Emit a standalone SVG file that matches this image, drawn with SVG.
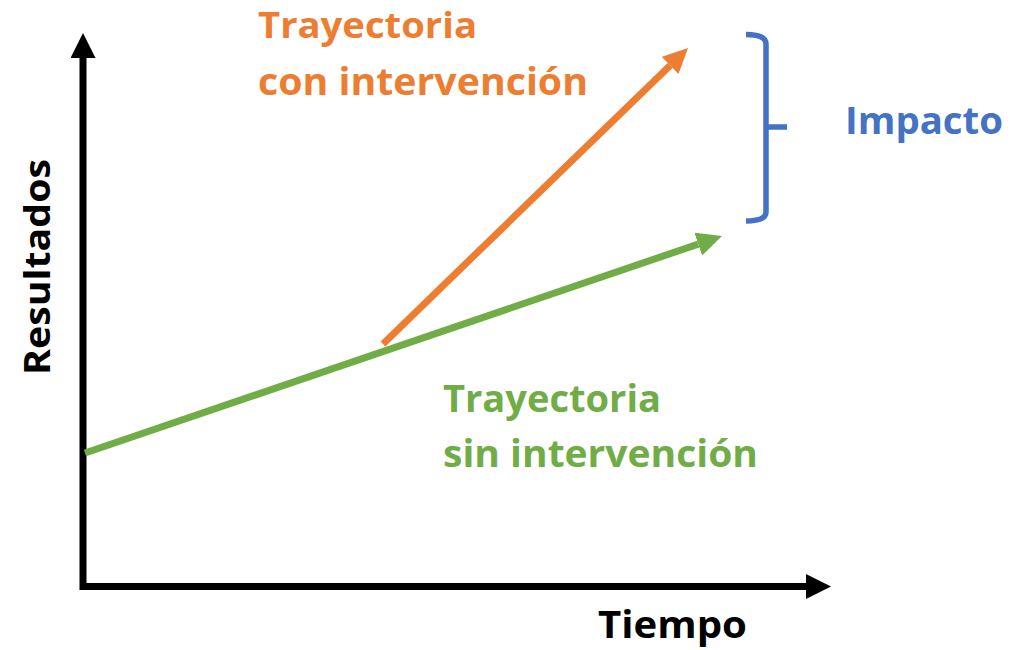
<svg xmlns="http://www.w3.org/2000/svg" width="1027" height="650" viewBox="0 0 1027 650">
<style>
text{font-family:"Open Sans","Liberation Sans",sans-serif;font-weight:bold;font-size:38px}
.or{fill:#ED7D31}.gr{fill:#70AD47}.bl{fill:#4472C4}.bk{fill:#000}
</style>
<defs>
<marker id="hk" viewBox="0 0 10 10" refX="0" refY="5" markerWidth="25" markerHeight="25" markerUnits="userSpaceOnUse" orient="auto"><path d="M0,0L10,5L0,10z" fill="#000"/></marker>
<marker id="hg" viewBox="0 0 10 10" refX="0" refY="5" markerWidth="25" markerHeight="24" markerUnits="userSpaceOnUse" orient="auto" preserveAspectRatio="none"><path d="M0,0L10,5L0,10z" fill="#70AD47"/></marker>
<marker id="ho" viewBox="0 0 10 10" refX="0" refY="5" markerWidth="25" markerHeight="24" markerUnits="userSpaceOnUse" orient="auto" preserveAspectRatio="none"><path d="M0,0L10,5L0,10z" fill="#ED7D31"/></marker>
</defs>
<g id="connectors">
<line x1="83" y1="590" x2="83" y2="58" stroke="#000" stroke-width="7" marker-end="url(#hk)"/>
<line x1="80" y1="586.5" x2="806" y2="586.5" stroke="#000" stroke-width="7" marker-end="url(#hk)"/>
<line x1="85" y1="453" x2="698.3" y2="244.1" stroke="#70AD47" stroke-width="7" marker-end="url(#hg)"/>
<line x1="383" y1="344" x2="670.1" y2="65.4" stroke="#ED7D31" stroke-width="7" marker-end="url(#ho)"/>
</g>
<g id="bracket">
<path d="M746,34.5 Q766,34.5 766,44 L766,212 Q766,221 746,221 M766,127 L787,127" fill="none" stroke="#4472C4" stroke-width="5.5"/>
</g>
<g id="label-con"><text class="or" x="258" y="38" style="font-size:35px" textLength="219" lengthAdjust="spacingAndGlyphs">Trayectoria</text>
<text class="or" x="258" y="95" textLength="330" lengthAdjust="spacingAndGlyphs">con intervención</text></g>
<g id="label-impacto"><text class="bl" x="845" y="134" textLength="158" lengthAdjust="spacingAndGlyphs">Impacto</text></g>
<g id="label-sin"><text class="gr" x="443" y="412" textLength="218" lengthAdjust="spacingAndGlyphs">Trayectoria</text>
<text class="gr" x="443" y="467" textLength="315" lengthAdjust="spacingAndGlyphs">sin intervención</text></g>
<g id="label-tiempo"><text class="bk" x="598" y="638" textLength="149" lengthAdjust="spacingAndGlyphs">Tiempo</text></g>
<g id="label-resultados"><text class="bk" transform="translate(50,375) rotate(-90)" x="0" y="0" style="font-size:36px" textLength="216" lengthAdjust="spacingAndGlyphs">Resultados</text></g>
</svg>
